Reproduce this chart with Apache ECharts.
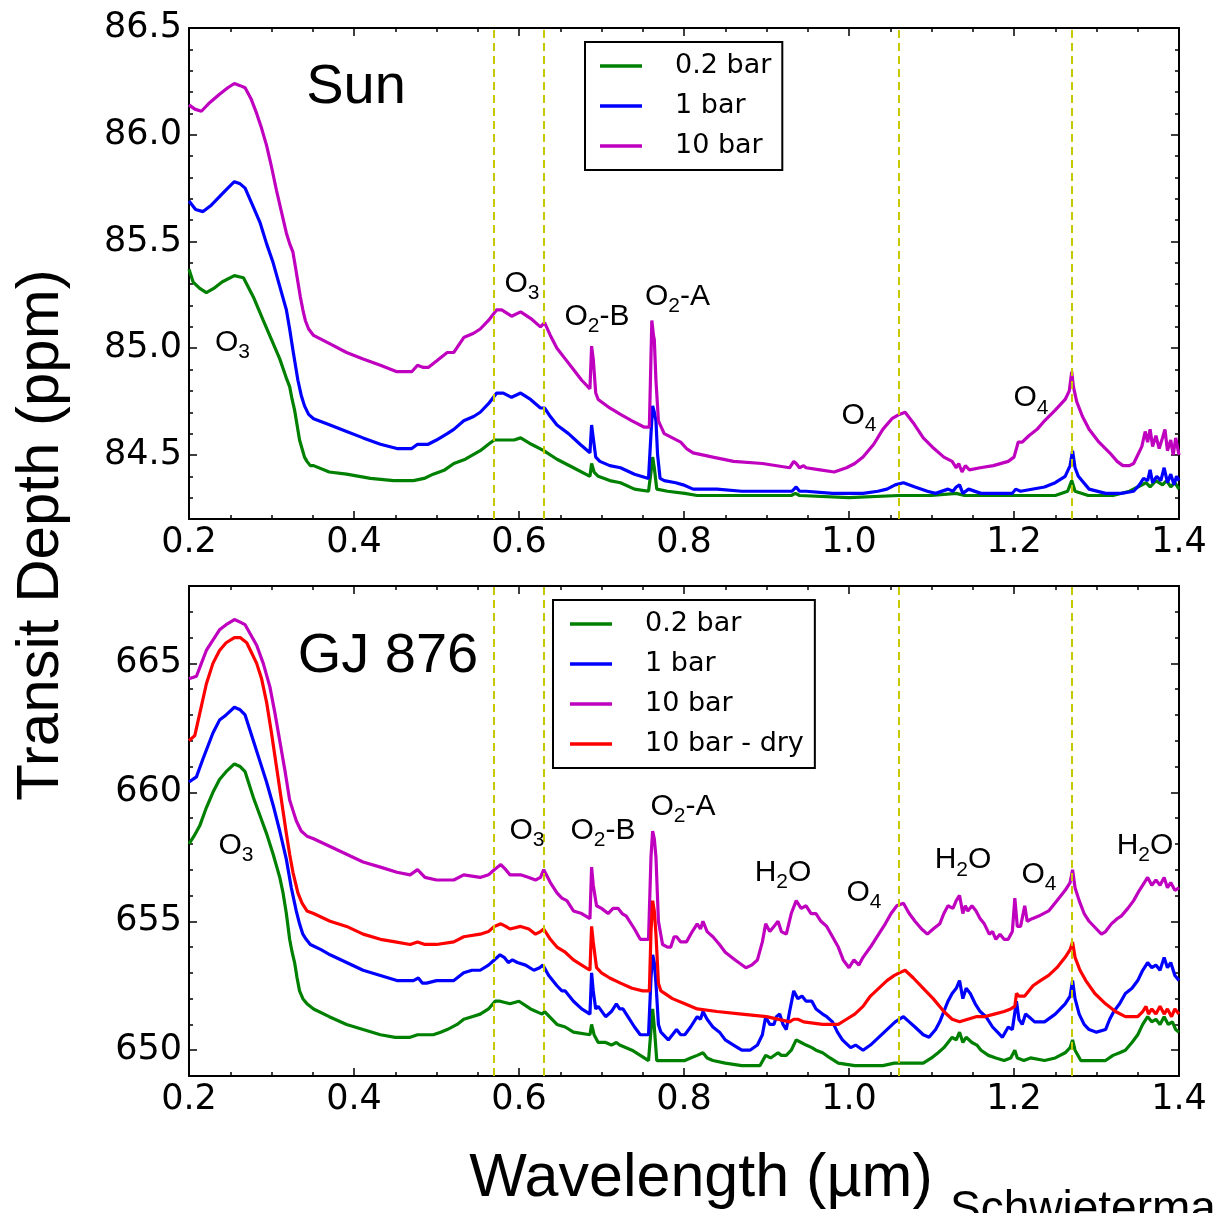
<!DOCTYPE html>
<html>
<head>
<meta charset="utf-8">
<script src="https://cdn.jsdelivr.net/npm/echarts@6/dist/echarts.min.js"></script>
<style>
  html, body { margin: 0; padding: 0; background: #fff; }
  #chart { width: 1213px; height: 1213px; }
</style>
</head>
<body>
<div id="chart"></div>
<script>
// Transit depth spectra, [wavelength (µm), transit depth (ppm)]

// Sun host star
const sun02bar = [[0.200,85.37],[0.205,85.31],[0.213,85.28],[0.221,85.26],[0.230,85.28],[0.240,85.31],[0.255,85.34],[0.266,85.33],[0.278,85.24],[0.290,85.13],[0.300,85.04],[0.310,84.95],[0.318,84.86],[0.322,84.82],[0.325,84.76],[0.328,84.71],[0.331,84.64],[0.334,84.57],[0.337,84.53],[0.340,84.49],[0.343,84.47],[0.347,84.45],[0.351,84.45],[0.370,84.42],[0.391,84.41],[0.420,84.39],[0.448,84.38],[0.472,84.38],[0.485,84.39],[0.496,84.41],[0.510,84.43],[0.521,84.46],[0.535,84.48],[0.553,84.52],[0.563,84.55],[0.570,84.57],[0.582,84.57],[0.594,84.57],[0.602,84.58],[0.615,84.55],[0.630,84.52],[0.646,84.48],[0.666,84.44],[0.686,84.40],[0.688,84.46],[0.691,84.42],[0.696,84.40],[0.710,84.38],[0.723,84.37],[0.740,84.34],[0.757,84.33],[0.760,84.42],[0.762,84.49],[0.764,84.44],[0.767,84.34],[0.780,84.33],[0.801,84.32],[0.816,84.31],[0.850,84.31],[0.900,84.31],[0.930,84.31],[0.935,84.32],[0.940,84.31],[1.000,84.30],[1.060,84.31],[1.100,84.31],[1.130,84.32],[1.140,84.31],[1.200,84.31],[1.250,84.31],[1.265,84.33],[1.270,84.38],[1.274,84.33],[1.290,84.31],[1.320,84.31],[1.340,84.33],[1.350,84.35],[1.360,84.37],[1.365,84.35],[1.372,84.38],[1.380,84.36],[1.385,84.38],[1.390,84.35],[1.395,84.37],[1.400,84.34]];

const sun1bar = [[0.200,85.69],[0.208,85.65],[0.217,85.64],[0.227,85.67],[0.237,85.71],[0.247,85.75],[0.255,85.78],[0.262,85.77],[0.268,85.75],[0.277,85.67],[0.286,85.59],[0.294,85.49],[0.302,85.40],[0.310,85.29],[0.318,85.18],[0.322,85.09],[0.326,84.99],[0.329,84.92],[0.332,84.85],[0.336,84.78],[0.340,84.73],[0.345,84.69],[0.351,84.67],[0.371,84.64],[0.391,84.61],[0.411,84.58],[0.432,84.55],[0.452,84.53],[0.470,84.53],[0.477,84.55],[0.484,84.55],[0.490,84.55],[0.500,84.57],[0.513,84.60],[0.521,84.62],[0.533,84.66],[0.545,84.68],[0.553,84.70],[0.563,84.74],[0.573,84.79],[0.581,84.79],[0.591,84.77],[0.602,84.79],[0.614,84.76],[0.626,84.72],[0.631,84.72],[0.638,84.68],[0.646,84.64],[0.660,84.60],[0.674,84.55],[0.686,84.51],[0.688,84.64],[0.690,84.58],[0.693,84.49],[0.698,84.47],[0.710,84.45],[0.723,84.44],[0.740,84.41],[0.757,84.39],[0.760,84.60],[0.762,84.73],[0.764,84.70],[0.766,84.66],[0.768,84.50],[0.771,84.39],[0.776,84.38],[0.790,84.37],[0.799,84.36],[0.811,84.34],[0.840,84.34],[0.870,84.33],[0.900,84.33],[0.931,84.33],[0.936,84.35],[0.940,84.33],[0.948,84.33],[0.980,84.32],[1.017,84.32],[1.035,84.33],[1.046,84.34],[1.056,84.36],[1.066,84.37],[1.080,84.35],[1.095,84.33],[1.105,84.32],[1.120,84.34],[1.126,84.33],[1.130,84.35],[1.134,84.36],[1.138,84.32],[1.145,84.34],[1.160,84.32],[1.198,84.32],[1.202,84.34],[1.208,84.33],[1.237,84.35],[1.250,84.37],[1.262,84.40],[1.268,84.45],[1.271,84.52],[1.274,84.44],[1.278,84.40],[1.291,84.34],[1.311,84.32],[1.330,84.32],[1.345,84.33],[1.352,84.36],[1.357,84.39],[1.362,84.38],[1.365,84.43],[1.368,84.37],[1.373,84.40],[1.378,84.38],[1.382,84.44],[1.386,84.37],[1.390,84.41],[1.394,84.36],[1.397,84.40],[1.400,84.38]];

const sun10bar = [[0.200,86.14],[0.207,86.12],[0.215,86.11],[0.225,86.15],[0.237,86.19],[0.247,86.22],[0.255,86.24],[0.262,86.23],[0.268,86.22],[0.275,86.17],[0.282,86.10],[0.288,86.03],[0.294,85.95],[0.300,85.85],[0.306,85.74],[0.312,85.64],[0.318,85.54],[0.322,85.49],[0.326,85.45],[0.329,85.38],[0.332,85.31],[0.335,85.24],[0.338,85.18],[0.341,85.13],[0.345,85.09],[0.351,85.06],[0.371,85.02],[0.391,84.98],[0.411,84.95],[0.432,84.92],[0.452,84.89],[0.470,84.89],[0.477,84.92],[0.484,84.91],[0.490,84.91],[0.500,84.94],[0.513,84.98],[0.521,84.98],[0.533,85.05],[0.545,85.07],[0.553,85.09],[0.563,85.13],[0.573,85.18],[0.579,85.18],[0.591,85.15],[0.602,85.17],[0.614,85.14],[0.626,85.10],[0.631,85.12],[0.638,85.06],[0.646,85.00],[0.656,84.95],[0.666,84.90],[0.676,84.85],[0.686,84.81],[0.688,85.01],[0.690,84.95],[0.693,84.79],[0.696,84.76],[0.710,84.72],[0.723,84.69],[0.737,84.66],[0.752,84.63],[0.758,84.63],[0.761,85.13],[0.763,85.06],[0.764,85.04],[0.766,84.85],[0.769,84.66],[0.776,84.60],[0.786,84.58],[0.796,84.56],[0.803,84.53],[0.811,84.51],[0.835,84.49],[0.860,84.47],[0.895,84.46],[0.928,84.44],[0.933,84.47],[0.936,84.46],[0.940,84.44],[0.945,84.45],[0.948,84.44],[0.965,84.43],[0.982,84.42],[0.997,84.44],[1.007,84.46],[1.017,84.49],[1.030,84.55],[1.041,84.62],[1.052,84.67],[1.061,84.69],[1.068,84.70],[1.078,84.65],[1.090,84.58],[1.103,84.53],[1.115,84.49],[1.125,84.47],[1.130,84.44],[1.133,84.46],[1.137,84.42],[1.141,84.45],[1.146,84.43],[1.159,84.44],[1.175,84.45],[1.193,84.47],[1.200,84.49],[1.203,84.53],[1.205,84.56],[1.210,84.56],[1.218,84.59],[1.228,84.62],[1.237,84.66],[1.250,84.71],[1.262,84.76],[1.267,84.80],[1.270,84.89],[1.272,84.82],[1.276,84.75],[1.283,84.68],[1.291,84.62],[1.303,84.56],[1.316,84.51],[1.325,84.47],[1.332,84.45],[1.340,84.45],[1.345,84.46],[1.350,84.50],[1.355,84.54],[1.359,84.61],[1.362,84.56],[1.365,84.62],[1.368,84.54],[1.372,84.59],[1.376,84.53],[1.380,84.58],[1.383,84.62],[1.386,84.52],[1.390,84.57],[1.393,84.50],[1.396,84.58],[1.400,84.50]];

// GJ 876 host star
const gj02bar = [[0.200,658.0],[0.206,658.3],[0.213,658.7],[0.221,659.4],[0.229,660.0],[0.237,660.5],[0.245,660.8],[0.255,661.1],[0.262,661.0],[0.268,660.8],[0.278,659.8],[0.286,659.1],[0.294,658.4],[0.302,657.6],[0.310,656.7],[0.314,656.1],[0.318,655.3],[0.322,654.3],[0.325,653.8],[0.328,653.4],[0.331,652.8],[0.334,652.3],[0.338,652.0],[0.343,651.8],[0.351,651.6],[0.370,651.3],[0.391,651.0],[0.411,650.8],[0.432,650.6],[0.450,650.5],[0.468,650.5],[0.477,650.6],[0.485,650.6],[0.496,650.6],[0.505,650.7],[0.513,650.8],[0.525,651.0],[0.533,651.2],[0.543,651.3],[0.553,651.4],[0.563,651.6],[0.571,651.9],[0.577,651.9],[0.589,651.8],[0.600,651.9],[0.614,651.6],[0.628,651.4],[0.631,651.5],[0.646,651.0],[0.656,650.9],[0.666,650.7],[0.686,650.6],[0.688,651.0],[0.691,650.6],[0.696,650.3],[0.705,650.3],[0.712,650.2],[0.718,650.3],[0.722,650.2],[0.737,650.0],[0.747,649.8],[0.757,649.6],[0.760,650.8],[0.762,651.6],[0.764,650.9],[0.767,649.6],[0.780,649.6],[0.801,649.6],[0.808,649.7],[0.816,649.8],[0.823,649.9],[0.828,649.7],[0.835,649.6],[0.850,649.5],[0.870,649.4],[0.892,649.4],[0.899,649.8],[0.905,649.7],[0.914,649.9],[0.918,649.8],[0.924,649.8],[0.930,650.0],[0.936,650.4],[0.942,650.3],[0.948,650.2],[0.955,650.1],[0.960,650.0],[0.968,649.9],[0.977,649.7],[0.987,649.5],[1.007,649.4],[1.025,649.4],[1.041,649.4],[1.055,649.5],[1.061,649.5],[1.075,649.5],[1.090,649.5],[1.100,649.7],[1.108,649.9],[1.115,650.1],[1.120,650.3],[1.125,650.5],[1.130,650.4],[1.134,650.7],[1.138,650.3],[1.142,650.5],[1.149,650.3],[1.155,650.2],[1.160,650.0],[1.169,649.8],[1.178,649.7],[1.188,649.6],[1.196,649.7],[1.201,650.0],[1.204,649.7],[1.212,649.6],[1.220,649.7],[1.237,649.6],[1.250,649.7],[1.262,649.9],[1.268,650.1],[1.271,650.4],[1.274,650.0],[1.281,649.6],[1.295,649.6],[1.311,649.6],[1.320,649.8],[1.328,649.9],[1.335,650.0],[1.343,650.3],[1.350,650.6],[1.356,651.0],[1.362,651.3],[1.367,651.1],[1.372,651.2],[1.377,651.0],[1.382,651.3],[1.387,651.0],[1.392,651.1],[1.396,650.8],[1.400,650.7]];

const gj1bar = [[0.200,660.4],[0.209,660.6],[0.217,661.3],[0.229,662.3],[0.237,662.8],[0.245,663.0],[0.255,663.3],[0.262,663.2],[0.268,663.0],[0.278,662.0],[0.286,661.2],[0.294,660.4],[0.302,659.5],[0.310,658.5],[0.318,657.4],[0.324,656.3],[0.330,655.4],[0.334,654.9],[0.338,654.5],[0.342,654.3],[0.347,654.1],[0.360,653.9],[0.371,653.7],[0.391,653.4],[0.411,653.1],[0.432,652.9],[0.452,652.7],[0.472,652.7],[0.478,652.8],[0.483,652.6],[0.488,652.6],[0.500,652.7],[0.513,652.7],[0.521,652.7],[0.533,653.0],[0.543,653.1],[0.553,653.1],[0.563,653.3],[0.570,653.5],[0.577,653.7],[0.582,653.6],[0.587,653.4],[0.592,653.5],[0.598,653.4],[0.608,653.3],[0.618,653.1],[0.625,653.2],[0.629,653.3],[0.636,652.9],[0.646,652.5],[0.652,652.3],[0.656,652.3],[0.666,651.9],[0.676,651.6],[0.686,651.4],[0.688,653.0],[0.690,652.3],[0.693,651.6],[0.696,651.7],[0.705,651.3],[0.712,651.5],[0.718,651.8],[0.722,651.6],[0.726,651.6],[0.732,651.3],[0.740,650.9],[0.747,650.6],[0.757,650.6],[0.760,652.8],[0.762,653.7],[0.764,653.4],[0.766,652.6],[0.769,651.0],[0.772,650.7],[0.781,650.4],[0.786,650.6],[0.791,650.8],[0.796,650.6],[0.801,650.6],[0.808,650.9],[0.816,651.3],[0.820,651.2],[0.823,651.5],[0.828,651.2],[0.835,650.9],[0.843,650.7],[0.850,650.4],[0.860,650.2],[0.870,650.0],[0.880,650.0],[0.889,650.2],[0.895,650.6],[0.899,651.3],[0.904,651.0],[0.909,651.0],[0.912,651.3],[0.916,651.4],[0.920,651.0],[0.924,650.8],[0.928,651.5],[0.933,652.3],[0.938,652.0],[0.943,652.1],[0.948,651.9],[0.955,651.9],[0.960,651.6],[0.968,651.4],[0.973,651.3],[0.980,651.1],[0.986,650.7],[0.992,650.4],[1.002,650.1],[1.008,650.2],[1.017,650.0],[1.026,650.2],[1.036,650.5],[1.046,650.8],[1.056,651.1],[1.066,651.3],[1.073,651.1],[1.080,650.9],[1.090,650.6],[1.097,650.5],[1.105,650.8],[1.110,651.1],[1.115,651.5],[1.120,651.9],[1.125,652.2],[1.130,652.4],[1.134,652.7],[1.138,652.0],[1.142,652.4],[1.147,652.2],[1.153,651.8],[1.159,651.5],[1.166,651.3],[1.174,650.9],[1.180,650.7],[1.186,650.5],[1.193,650.9],[1.198,650.8],[1.203,651.9],[1.206,651.2],[1.210,651.0],[1.214,651.4],[1.218,651.3],[1.225,651.1],[1.237,651.1],[1.250,651.4],[1.262,651.8],[1.268,652.1],[1.271,652.7],[1.274,652.0],[1.279,651.4],[1.285,651.0],[1.291,650.8],[1.300,650.7],[1.311,650.8],[1.316,651.2],[1.321,651.5],[1.328,651.8],[1.335,652.2],[1.343,652.4],[1.350,652.7],[1.356,653.1],[1.362,653.4],[1.367,653.2],[1.372,653.3],[1.377,653.1],[1.382,653.6],[1.386,653.2],[1.390,653.4],[1.395,652.9],[1.400,652.7]];

const gj10bar = [[0.200,664.4],[0.209,664.5],[0.215,665.0],[0.221,665.5],[0.229,665.9],[0.237,666.3],[0.245,666.5],[0.255,666.7],[0.262,666.6],[0.268,666.5],[0.275,666.1],[0.282,665.7],[0.290,665.0],[0.298,664.1],[0.304,663.1],[0.310,662.0],[0.316,660.9],[0.322,659.7],[0.326,659.3],[0.330,658.9],[0.336,658.5],[0.343,658.3],[0.351,658.2],[0.371,657.9],[0.391,657.6],[0.411,657.3],[0.432,657.1],[0.452,656.9],[0.468,656.8],[0.477,657.0],[0.486,656.7],[0.500,656.6],[0.521,656.6],[0.533,656.8],[0.553,656.7],[0.563,656.8],[0.570,657.0],[0.578,657.2],[0.584,657.0],[0.589,656.8],[0.602,656.8],[0.612,656.7],[0.620,656.6],[0.626,656.7],[0.630,657.0],[0.638,656.5],[0.646,656.1],[0.652,655.9],[0.658,655.8],[0.666,655.4],[0.676,655.3],[0.686,655.1],[0.688,657.1],[0.690,656.4],[0.694,655.6],[0.700,655.5],[0.708,655.3],[0.714,655.5],[0.720,655.5],[0.725,655.3],[0.730,655.2],[0.740,654.7],[0.747,654.3],[0.757,654.3],[0.760,657.5],[0.762,658.5],[0.764,658.2],[0.766,657.5],[0.769,655.0],[0.774,654.1],[0.780,654.0],[0.784,654.0],[0.788,654.4],[0.791,654.4],[0.796,654.2],[0.803,654.2],[0.810,654.6],[0.816,654.9],[0.820,654.7],[0.823,655.0],[0.828,654.6],[0.835,654.4],[0.843,654.1],[0.850,653.8],[0.862,653.5],[0.875,653.2],[0.882,653.3],[0.889,653.5],[0.895,654.2],[0.899,654.9],[0.904,654.6],[0.909,654.8],[0.914,655.0],[0.918,654.6],[0.924,654.5],[0.930,655.3],[0.936,655.8],[0.942,655.5],[0.948,655.6],[0.954,655.3],[0.960,655.3],[0.966,655.0],[0.973,654.8],[0.980,654.4],[0.987,654.0],[0.993,653.5],[1.000,653.2],[1.006,653.5],[1.012,653.3],[1.017,653.6],[1.026,654.0],[1.036,654.5],[1.044,654.9],[1.051,655.3],[1.058,655.6],[1.066,655.7],[1.073,655.3],[1.080,655.0],[1.088,654.7],[1.095,654.5],[1.102,654.7],[1.110,654.9],[1.115,655.3],[1.120,655.6],[1.126,655.5],[1.130,655.8],[1.134,656.0],[1.138,655.3],[1.141,655.6],[1.144,655.4],[1.149,655.6],[1.154,655.4],[1.159,655.1],[1.164,654.9],[1.170,654.5],[1.174,654.6],[1.178,654.3],[1.183,654.5],[1.188,654.3],[1.193,654.3],[1.198,654.6],[1.201,655.9],[1.204,654.8],[1.208,654.8],[1.213,655.6],[1.216,655.0],[1.222,655.1],[1.230,655.2],[1.242,655.4],[1.252,655.8],[1.262,656.2],[1.268,656.5],[1.271,657.0],[1.274,656.3],[1.279,655.8],[1.285,655.3],[1.291,655.0],[1.300,654.7],[1.306,654.5],[1.311,654.6],[1.318,654.9],[1.325,655.1],[1.330,655.2],[1.338,655.5],[1.345,655.8],[1.352,656.2],[1.358,656.5],[1.362,656.7],[1.367,656.4],[1.372,656.6],[1.377,656.4],[1.382,656.7],[1.386,656.3],[1.390,656.5],[1.395,656.2],[1.400,656.3]];

const gj10barDry = [[0.200,662.0],[0.207,662.2],[0.214,663.2],[0.221,664.2],[0.229,665.0],[0.237,665.5],[0.245,665.8],[0.255,666.0],[0.262,666.0],[0.270,665.8],[0.276,665.4],[0.282,665.0],[0.288,664.4],[0.294,663.5],[0.300,662.3],[0.306,661.0],[0.312,659.7],[0.318,658.4],[0.322,657.6],[0.326,656.9],[0.329,656.5],[0.332,656.1],[0.337,655.7],[0.343,655.4],[0.351,655.3],[0.371,655.0],[0.391,654.8],[0.411,654.5],[0.432,654.3],[0.450,654.2],[0.468,654.1],[0.477,654.2],[0.486,654.1],[0.500,654.1],[0.521,654.2],[0.533,654.4],[0.553,654.5],[0.563,654.6],[0.570,654.8],[0.578,654.9],[0.584,654.8],[0.589,654.7],[0.602,654.8],[0.612,654.7],[0.620,654.5],[0.626,654.6],[0.630,654.7],[0.638,654.3],[0.646,654.0],[0.656,653.8],[0.666,653.5],[0.676,653.3],[0.686,653.1],[0.688,654.8],[0.690,654.2],[0.694,653.2],[0.700,653.0],[0.710,652.8],[0.723,652.6],[0.737,652.4],[0.750,652.3],[0.758,652.3],[0.760,654.6],[0.762,655.8],[0.764,655.4],[0.766,654.5],[0.769,652.6],[0.772,652.3],[0.786,652.0],[0.801,651.8],[0.816,651.6],[0.840,651.5],[0.870,651.4],[0.900,651.3],[0.928,651.1],[0.933,651.2],[0.938,651.2],[0.945,651.1],[0.968,651.0],[0.987,651.0],[0.997,651.2],[1.007,651.4],[1.017,651.7],[1.026,652.1],[1.036,652.4],[1.046,652.7],[1.055,652.9],[1.061,653.0],[1.068,653.1],[1.078,652.8],[1.090,652.4],[1.102,652.0],[1.115,651.5],[1.125,651.2],[1.134,651.1],[1.144,651.2],[1.154,651.3],[1.164,651.3],[1.176,651.4],[1.188,651.5],[1.196,651.6],[1.201,651.7],[1.203,652.2],[1.206,652.1],[1.213,652.1],[1.223,652.5],[1.232,652.7],[1.242,652.9],[1.252,653.2],[1.262,653.6],[1.268,653.9],[1.271,654.2],[1.274,653.6],[1.280,653.1],[1.287,652.7],[1.298,652.2],[1.311,651.8],[1.323,651.5],[1.335,651.3],[1.345,651.3],[1.350,651.3],[1.356,651.5],[1.360,651.7],[1.363,651.4],[1.367,651.6],[1.372,651.4],[1.377,651.7],[1.382,651.4],[1.386,651.6],[1.391,651.3],[1.395,651.6],[1.400,651.4]];

// Absorption band centres marked with dashed lines (µm)
const bandLines = [0.57, 0.63, 1.06, 1.27];

// Axis ranges and tick values
const xRange = [0.2, 1.4];
const sunRange = [84.2, 86.5];
const sunTicks = [84.5, 85.0, 85.5, 86.0, 86.5];
const gjRange = [649, 668];
const gjTicks = [650, 655, 660, 665];

// Band labels: "_d" marks a subscript digit; anchored at [wavelength, depth]
const sunLabels = [
  ['O_3', 0.2527, 85.013], ['O_3', 0.6036, 85.29], ['O_2-B', 0.6945, 85.135],
  ['O_2-A', 0.7921, 85.229], ['O_4', 1.0121, 84.674], ['O_4', 1.2206, 84.754]
];
const gjLabels = [
  ['O_3', 0.2570, 657.85], ['O_3', 0.6097, 658.43], ['O_2-B', 0.7018, 658.43],
  ['O_2-A', 0.7988, 659.33], ['H_2O', 0.9200, 656.80], ['O_4', 1.0182, 656.02],
  ['H_2O', 1.1382, 657.27], ['O_4', 1.2303, 656.72], ['H_2O', 1.3588, 657.85]
];
const panelTitles = [['Sun', 0.4024, 86.222], ['GJ 876', 0.4412, 665.27]];

const seriesNames = ['0.2 bar', '1 bar', '10 bar', '10 bar - dry'];
const seriesColors = { '0.2 bar': '#008000', '1 bar': '#0000ff', '10 bar': '#bf00bf', '10 bar - dry': '#ff0000' };

const SANS = 'Liberation Sans, Arial, sans-serif';
const TICKFONT = 'DejaVu Sans, sans-serif';

function toRich(label) {
  return label.split(/_(\d)/).map((p, i) => i % 2 ? '{s|' + p + '}' : (p ? '{m|' + p + '}' : '')).join('');
}

// Main glyphs and subscripts share one token height (35); padding pushes the subscript down
const richStyle = {
  m: { fontFamily: SANS, fontSize: 30, lineHeight: 30, color: '#000', padding: [0, 0, 5, 0] },
  s: { fontFamily: SANS, fontSize: 21, lineHeight: 21, color: '#000', padding: [14, 0, 0, 0] },
  t: { fontFamily: SANS, fontSize: 56, lineHeight: 60, color: '#000' }
};

function labelPoints(labels, title) {
  const pts = labels.map(l => ({
    coord: [l[1], l[2]],
    label: { formatter: toRich(l[0]) }
  }));
  pts.push({ coord: [title[1], title[2]], label: { formatter: '{t|' + title[0] + '}' } });
  return {
    silent: true,
    symbol: 'circle',
    symbolSize: 0,
    itemStyle: { color: 'rgba(0,0,0,0)' },
    label: { show: true, position: 'inside', align: 'center', verticalAlign: 'middle', rich: richStyle },
    data: pts
  };
}

const bandMarks = {
  silent: true,
  symbol: 'none',
  label: { show: false },
  lineStyle: { color: '#c8c800', type: [8, 5], width: 2 },
  data: bandLines.map(v => ({ xAxis: v }))
};

function xAxisDef(grid, pos, showLabels) {
  return {
    type: 'value', gridIndex: grid, position: pos,
    min: xRange[0], max: xRange[1], interval: 0.2,
    axisLine: { show: true, onZero: false, lineStyle: { color: '#000', width: 2 } },
    axisTick: { show: true, inside: true, length: 8, lineStyle: { color: '#000', width: 1.5 } },
    minorTick: { show: true, splitNumber: 4, length: 4, lineStyle: { color: '#000', width: 1.5 } },
    axisLabel: { show: showLabels, margin: 6, fontFamily: TICKFONT, fontSize: 35, color: '#000',
      formatter: v => v.toFixed(1) },
    splitLine: { show: false }
  };
}

function yMajor(grid, pos, range, ticks, showLabels, digits) {
  return {
    type: 'value', gridIndex: grid, position: pos,
    min: range[0], max: range[1],
    axisLine: { show: true, onZero: false, lineStyle: { color: '#000', width: 2 } },
    axisTick: { show: true, inside: true, length: 8, customValues: ticks, lineStyle: { color: '#000', width: 1.5 } },
    axisLabel: { show: showLabels, customValues: ticks, margin: 7, fontFamily: TICKFONT, fontSize: 35, color: '#000',
      formatter: v => v.toFixed(digits) },
    splitLine: { show: false }
  };
}

function yMinor(grid, pos, range, step) {
  return {
    type: 'value', gridIndex: grid, position: pos,
    min: range[0], max: range[1], interval: step,
    axisLine: { show: false },
    axisTick: { show: true, inside: true, length: 4, lineStyle: { color: '#000', width: 1.5 } },
    axisLabel: { show: false },
    splitLine: { show: false }
  };
}

function lineSeries(name, data, xi, yi, extra) {
  return Object.assign({
    name, type: 'line', data, xAxisIndex: xi, yAxisIndex: yi,
    color: seriesColors[name], symbol: 'none', smooth: false, clip: true,
    lineStyle: { width: 3.2, color: seriesColors[name] },
    emphasis: { disabled: true }
  }, extra || {});
}

function legendDef(names, left, top, pad) {
  return {
    data: names, orient: 'vertical', left, top,
    icon: 'rect', itemWidth: 42, itemHeight: 3.5, itemGap: 10,
    padding: pad, borderColor: '#000', borderWidth: 2, backgroundColor: '#fff',
    selectedMode: false,
    textStyle: { fontFamily: TICKFONT, fontSize: 27, color: '#000', lineHeight: 30, padding: [0, 0, 0, 28] }
  };
}

const chart = echarts.init(document.getElementById('chart'), null, { renderer: 'canvas' });

chart.setOption({
  backgroundColor: '#fff',
  animation: false,
  grid: [
    { left: 189, top: 28, width: 990, height: 491 },
    { left: 189, top: 586, width: 990, height: 490 }
  ],
  xAxis: [
    xAxisDef(0, 'bottom', true), xAxisDef(0, 'top', false),
    xAxisDef(1, 'bottom', true), xAxisDef(1, 'top', false)
  ],
  yAxis: [
    yMajor(0, 'left', sunRange, sunTicks, true, 1), yMajor(0, 'right', sunRange, sunTicks, false, 1),
    yMinor(0, 'left', sunRange, 0.1), yMinor(0, 'right', sunRange, 0.1),
    yMajor(1, 'left', gjRange, gjTicks, true, 0), yMajor(1, 'right', gjRange, gjTicks, false, 0),
    yMinor(1, 'left', gjRange, 1), yMinor(1, 'right', gjRange, 1)
  ],
  legend: [
    legendDef(seriesNames.slice(0, 3), 585, 42, [9, 11, 9, 15]),
    legendDef(seriesNames, 553, 600, [9, 11, 9, 17])
  ],
  series: [
    lineSeries('0.2 bar', sun02bar, 0, 0, { markLine: bandMarks, markPoint: labelPoints(sunLabels, panelTitles[0]) }),
    lineSeries('1 bar', sun1bar, 0, 0),
    lineSeries('10 bar', sun10bar, 0, 0),
    lineSeries('0.2 bar', gj02bar, 2, 4, { markLine: bandMarks, markPoint: labelPoints(gjLabels, panelTitles[1]) }),
    lineSeries('1 bar', gj1bar, 2, 4),
    lineSeries('10 bar', gj10bar, 2, 4),
    lineSeries('10 bar - dry', gj10barDry, 2, 4)
  ],
  graphic: [
    { type: 'text', x: 41, y: 535, rotation: Math.PI / 2,
      style: { text: 'Transit Depth (ppm)', fontFamily: SANS, fontSize: 60, fill: '#000', align: 'center', verticalAlign: 'middle' } },
    { type: 'text', x: 701, y: 1179,
      style: { text: 'Wavelength (µm)', fontFamily: SANS, fontSize: 61, fill: '#000', align: 'center', verticalAlign: 'middle' } },
    { type: 'text', x: 950, y: 1210,
      style: { text: 'Schwieterman et al. 2016', fontFamily: SANS, fontSize: 46, fill: '#000', align: 'left', verticalAlign: 'middle' } }
  ]
});
</script>
</body>
</html>
